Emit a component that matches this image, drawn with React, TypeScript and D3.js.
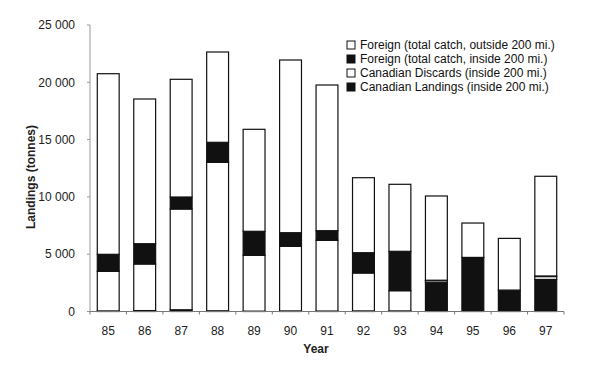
import React, { useEffect, useRef } from 'react';
import * as d3 from 'd3';

const years = ['85', '86', '87', '88', '89', '90', '91', '92', '93', '94', '95', '96', '97'];
const canLandings = [50, 80, 150, 60, 30, 50, 40, 50, 50, 2550, 4720, 1870, 2800];
const canDiscards = [3460, 4065, 8794, 12959, 4874, 5639, 6173, 3310, 1765, 150, 0, 0, 250];
const foreignInside = [1480, 1771, 1047, 1745, 2094, 1187, 838, 1771, 3438, 30, 0, 0, 50];
const foreignOutside = [15760, 12627, 10271, 7880, 8900, 15070, 12713, 6544, 5846, 7350, 3000, 4510, 8700];
const yTicks = [0, 5000, 10000, 15000, 20000, 25000];

const seriesKeys = ['canLandings', 'canDiscards', 'foreignInside', 'foreignOutside'];
const seriesFill: Record<string, string> = {
  canLandings: '#111',
  canDiscards: '#fff',
  foreignInside: '#111',
  foreignOutside: '#fff',
};
const legendItems = [
  { key: 'foreignOutside', label: 'Foreign (total catch, outside 200 mi.)' },
  { key: 'foreignInside', label: 'Foreign (total catch, inside 200 mi.)' },
  { key: 'canDiscards', label: 'Canadian Discards (inside 200 mi.)' },
  { key: 'canLandings', label: 'Canadian Landings (inside 200 mi.)' },
];

const font = '"Liberation Sans", Arial, sans-serif';

function App() {
  const ref = useRef<SVGSVGElement>(null);

  useEffect(() => {
    const svg = d3.select(ref.current);
    svg.selectAll('*').remove();

    const table = years.map((year, i) => ({
      year,
      canLandings: canLandings[i],
      canDiscards: canDiscards[i],
      foreignInside: foreignInside[i],
      foreignOutside: foreignOutside[i],
    }));

    const x = d3.scaleBand().domain(years).range([90, 564]).paddingInner(0.4).paddingOuter(0.2);
    const y = d3.scaleLinear().domain([0, 25000]).range([311.5, 25]);

    const stacked = d3.stack<any>().keys(seriesKeys)(table);

    // y axis
    svg.append('line')
      .attr('x1', 90).attr('x2', 90)
      .attr('y1', y(25000)).attr('y2', y(0))
      .attr('stroke', '#999').attr('stroke-width', 1);
    svg.selectAll('.ytick')
      .data(yTicks)
      .join('line')
      .attr('x1', 87).attr('x2', 90)
      .attr('y1', (d) => y(d)).attr('y2', (d) => y(d))
      .attr('stroke', '#999');
    svg.selectAll('.ylab')
      .data(yTicks)
      .join('text')
      .attr('x', 75)
      .attr('y', (d) => y(d))
      .attr('dy', '0.35em')
      .attr('text-anchor', 'end')
      .attr('font-family', font)
      .attr('font-size', 12)
      .attr('fill', '#222')
      .text((d) => (d === 0 ? '0' : d3.format(',')(d).replace(',', ' ')));

    // bars
    const layer = svg.append('g');
    stacked.forEach((s) => {
      layer.append('g')
        .selectAll('rect')
        .data(s.filter((d) => d[1] - d[0] > 0))
        .join('rect')
        .attr('x', (d) => x(d.data.year)!)
        .attr('width', x.bandwidth())
        .attr('y', (d) => y(d[1]))
        .attr('height', (d) => y(d[0]) - y(d[1]))
        .attr('fill', seriesFill[s.key])
        .attr('stroke', '#111')
        .attr('stroke-width', 1.2);
    });

    // x axis
    svg.append('line')
      .attr('x1', 90).attr('x2', 564)
      .attr('y1', y(0)).attr('y2', y(0))
      .attr('stroke', '#777');
    const bounds = years.map((d) => x(d)! - (x.step() * 0.4) / 2).concat([564]);
    bounds[0] = 90;
    svg.selectAll('.xtick')
      .data(bounds)
      .join('line')
      .attr('x1', (d) => d).attr('x2', (d) => d)
      .attr('y1', y(0)).attr('y2', y(0) + 3)
      .attr('stroke', '#777');
    svg.selectAll('.xlab')
      .data(years)
      .join('text')
      .attr('x', (d) => x(d)! + x.bandwidth() / 2)
      .attr('y', 335)
      .attr('text-anchor', 'middle')
      .attr('font-family', font)
      .attr('font-size', 12)
      .attr('fill', '#222')
      .text((d) => d);

    // titles
    svg.append('text')
      .attr('x', 316).attr('y', 353)
      .attr('text-anchor', 'middle')
      .attr('font-family', font)
      .attr('font-size', 12)
      .attr('font-weight', 'bold')
      .attr('fill', '#222')
      .text('Year');
    svg.append('text')
      .attr('transform', 'translate(35,177) rotate(-90)')
      .attr('text-anchor', 'middle')
      .attr('font-family', font)
      .attr('font-size', 12)
      .attr('font-weight', 'bold')
      .attr('fill', '#222')
      .text('Landings (tonnes)');

    // legend
    const legend = svg.append('g').selectAll('g')
      .data(legendItems)
      .join('g')
      .attr('transform', (d, i) => `translate(347, ${45 + i * 14})`);
    legend.append('rect')
      .attr('x', 0).attr('y', -4)
      .attr('width', 8).attr('height', 8)
      .attr('fill', (d) => seriesFill[d.key])
      .attr('stroke', '#111')
      .attr('stroke-width', 1);
    legend.append('text')
      .attr('x', 13)
      .attr('dy', '0.36em')
      .attr('font-family', font)
      .attr('font-size', 12)
      .attr('fill', '#111')
      .text((d) => d.label);
  }, []);

  return (
    <svg
      ref={ref}
      width={600}
      height={371}
      style={{ position: 'absolute', left: 0, top: 0, background: '#fff' }}
    />
  );
}

export default App;
